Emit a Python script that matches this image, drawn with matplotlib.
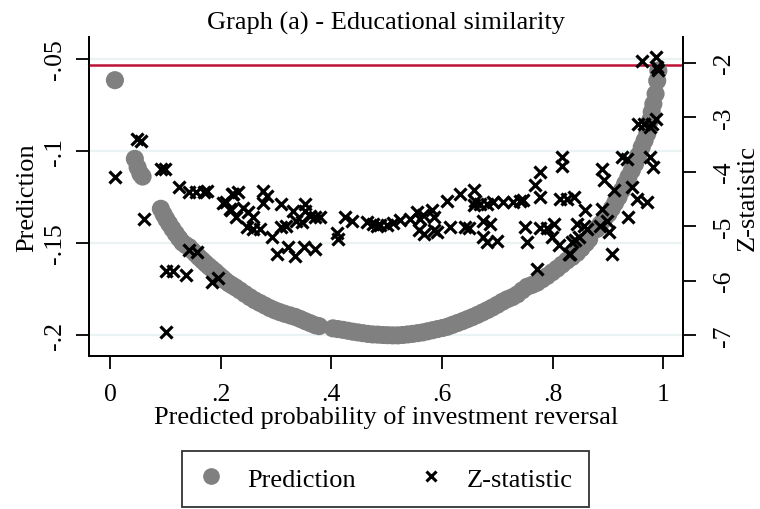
import matplotlib
matplotlib.use('Agg')
import matplotlib.pyplot as plt
from matplotlib.lines import Line2D

plt.rcParams['font.family'] = ['Liberation Serif', 'DejaVu Serif']

# Prediction (left axis)
pred_x = [0.009, 0.045, 0.050, 0.055, 0.059,
          0.092, 0.097, 0.102, 0.107, 0.113, 0.119, 0.125, 0.131, 0.137, 0.143,
          0.149, 0.155, 0.161, 0.167, 0.173, 0.179, 0.185, 0.191, 0.197, 0.203,
          0.209, 0.215, 0.221, 0.227, 0.235, 0.244, 0.253, 0.262, 0.271, 0.280,
          0.289, 0.298, 0.307, 0.316, 0.326, 0.335, 0.344, 0.353, 0.362, 0.371,
          0.378, 0.403, 0.412, 0.421, 0.430, 0.439, 0.448, 0.457, 0.466, 0.475,
          0.484, 0.493, 0.502, 0.511, 0.520, 0.529, 0.538, 0.547, 0.556, 0.565,
          0.574, 0.583, 0.592, 0.601, 0.610, 0.619, 0.628, 0.637, 0.646, 0.655,
          0.664, 0.673, 0.682, 0.691, 0.700, 0.709, 0.718, 0.727, 0.736, 0.745,
          0.754, 0.763, 0.772, 0.781, 0.790, 0.799, 0.808, 0.817, 0.826, 0.835,
          0.844, 0.852, 0.860, 0.866, 0.880, 0.886, 0.893, 0.901, 0.907, 0.913,
          0.919, 0.925, 0.931, 0.937, 0.943, 0.949, 0.955, 0.961, 0.966, 0.971,
          0.976, 0.979, 0.982, 0.986, 0.989, 0.991]
pred_y = [-0.0617, -0.1044, -0.1090, -0.1125, -0.1140,
          -0.1315, -0.1345, -0.1372, -0.1396, -0.1424, -0.1450, -0.1475, -0.1498, -0.1512, -0.1523,
          -0.1542, -0.1560, -0.1578, -0.1595, -0.1612, -0.1628, -0.1643, -0.1658, -0.1675, -0.1690,
          -0.1706, -0.1720, -0.1731, -0.1742, -0.1758, -0.1777, -0.1795, -0.1812, -0.1826, -0.1840,
          -0.1854, -0.1866, -0.1876, -0.1885, -0.1894, -0.1902, -0.1913, -0.1925, -0.1936, -0.1947,
          -0.1952, -0.1964, -0.1968, -0.1972, -0.1977, -0.1982, -0.1986, -0.1990, -0.1994, -0.1997,
          -0.1998, -0.2000, -0.2001, -0.2002, -0.2002, -0.2000, -0.1997, -0.1994, -0.1990, -0.1986,
          -0.1980, -0.1974, -0.1968, -0.1962, -0.1955, -0.1945, -0.1935, -0.1925, -0.1914, -0.1903,
          -0.1891, -0.1878, -0.1865, -0.1851, -0.1836, -0.1820, -0.1806, -0.1795, -0.1780, -0.1758,
          -0.1738, -0.1728, -0.1716, -0.1698, -0.1680, -0.1660, -0.1640, -0.1618, -0.1596, -0.1577,
          -0.1555, -0.1530, -0.1502, -0.1480, -0.1425, -0.1400, -0.1372, -0.1342, -0.1313, -0.1283,
          -0.1252, -0.1215, -0.1179, -0.1142, -0.1107, -0.1071, -0.1025, -0.0980, -0.0945, -0.0908,
          -0.0836, -0.0790, -0.0746, -0.0691, -0.0620, -0.0565]

# Z-statistic (right axis)
z_x = [0.010, 0.049, 0.056, 0.061, 0.093, 0.099, 0.102, 0.102, 0.114, 0.137,
       0.125, 0.143, 0.155, 0.170, 0.176, 0.143, 0.158, 0.184, 0.196, 0.209,
       0.221, 0.218, 0.227, 0.205, 0.217, 0.223, 0.232, 0.241, 0.250, 0.259,
       0.247, 0.259, 0.271, 0.277, 0.283, 0.277, 0.292, 0.301, 0.310, 0.310,
       0.319, 0.322, 0.331, 0.337, 0.335, 0.347, 0.353, 0.362, 0.371, 0.380,
       0.353, 0.350, 0.371, 0.410, 0.413, 0.425, 0.437, 0.464, 0.476, 0.482,
       0.488, 0.500, 0.512, 0.524, 0.542, 0.554, 0.560, 0.566, 0.558, 0.567,
       0.582, 0.585, 0.585, 0.591, 0.609, 0.615, 0.633, 0.642, 0.648, 0.657,
       0.660, 0.657, 0.669, 0.681, 0.693, 0.675, 0.687, 0.675, 0.681, 0.699,
       0.711, 0.729, 0.741, 0.747, 0.750, 0.753, 0.769, 0.778, 0.778, 0.772,
       0.778, 0.790, 0.802, 0.799, 0.811, 0.829, 0.817, 0.817, 0.814, 0.826,
       0.838, 0.835, 0.841, 0.847, 0.832, 0.844, 0.856, 0.862, 0.859, 0.889,
       0.892, 0.910, 0.889, 0.886, 0.898, 0.901, 0.907, 0.925, 0.934, 0.937,
       0.943, 0.952, 0.970, 0.955, 0.965, 0.976, 0.982, 0.979, 0.986, 0.976,
       0.961, 0.986, 0.988, 0.991]
z_y = [-4.09, -3.40, -3.44, -4.87, -3.95, -3.95, -6.94, -5.83, -5.83, -5.90,
       -4.28, -4.38, -4.38, -4.38, -4.35, -5.43, -5.48, -6.03, -5.95, -4.56,
       -4.41, -4.71, -4.83, -4.57, -4.69, -4.41, -4.38, -4.66, -4.75, -4.84,
       -5.02, -5.05, -5.05, -4.35, -4.44, -4.57, -5.20, -5.51, -4.60, -5.02,
       -4.99, -5.39, -4.72, -4.90, -5.55, -4.93, -4.72, -4.81, -4.84, -4.84,
       -4.60, -5.39, -5.42, -5.12, -5.24, -4.84, -4.90, -4.93, -4.96, -4.99,
       -4.98, -4.98, -4.95, -4.89, -4.87, -4.74, -4.87, -4.80, -5.08, -5.14,
       -4.71, -4.83, -5.08, -5.11, -4.53, -5.01, -4.41, -5.01, -5.03, -4.34,
       -4.53, -4.62, -4.59, -4.59, -4.56, -4.90, -4.96, -5.20, -5.29, -5.28,
       -4.56, -4.56, -4.53, -4.52, -5.02, -5.29, -4.25, -4.01, -4.47, -5.78,
       -5.03, -5.03, -4.96, -5.20, -5.35, -5.51, -3.73, -3.89, -4.50, -4.50,
       -4.46, -5.29, -5.26, -5.20, -5.51, -4.96, -4.99, -5.05, -4.70, -3.95,
       -4.16, -4.34, -4.68, -4.99, -4.90, -5.11, -5.51, -3.74, -3.76, -4.83,
       -4.28, -4.50, -4.56, -3.12, -3.13, -3.73, -3.92, -3.12, -3.03, -3.18,
       -1.97, -1.90, -2.08, -2.14]

ref_line = -0.0536

fig = plt.figure(figsize=(7.6, 5.1), dpi=100)
ax = fig.add_axes([0.117, 0.300, 0.782, 0.625])
ax2 = ax.twinx()

ax.set_xlim(-0.038, 1.036)
ax.set_ylim(-0.2114, -0.0384)
ax2.set_ylim(-7.385, -1.532)

ax.set_yticks([-0.05, -0.1, -0.15, -0.2])
ax.set_yticklabels(['-.05', '-.1', '-.15', '-.2'], rotation=90, va='center')
ax.set_xticks([0, 0.2, 0.4, 0.6, 0.8, 1])
ax.set_xticklabels(['0', '.2', '.4', '.6', '.8', '1'])
ax2.set_yticks([-2, -3, -4, -5, -6, -7])
ax2.set_yticklabels(['-2', '-3', '-4', '-5', '-6', '-7'], rotation=90, va='center')

for g in [-0.05, -0.1, -0.15, -0.2]:
    ax.axhline(g, color='#eaf2f3', lw=1.6, zorder=0)
ax.axhline(ref_line, color='#bd1238', lw=1.8, zorder=1)

ax.scatter(pred_x, pred_y, s=170, color='#808080', edgecolors='none', zorder=2)
ax2.scatter(z_x, z_y, s=75, marker='x', color='black', linewidths=2.3, zorder=3)

for a in (ax, ax2):
    a.spines['top'].set_visible(False)
    for s in ('left', 'right', 'bottom'):
        a.spines[s].set_linewidth(1.3)
    a.tick_params(direction='out', length=9.5, width=1.3, labelsize=18.5)
ax.tick_params(axis='y', pad=7)
ax.tick_params(axis='x', pad=10)
ax2.tick_params(axis='y', pad=12)

ax.set_xlabel('Predicted probability of investment reversal', fontsize=19, labelpad=0)
ax.set_ylabel('Prediction', fontsize=19, labelpad=4)
ax2.set_ylabel('Z-statistic', fontsize=19, rotation=90, labelpad=1)
ax.set_title('Graph (a) - Educational similarity', fontsize=19, pad=6)

handles = [Line2D([], [], marker='o', color='#808080', ls='none', markersize=11),
           Line2D([], [], marker='x', color='black', ls='none', markersize=7.5, markeredgewidth=2.2)]
leg = fig.legend(handles, ['Prediction', 'Z-statistic'], loc='center', bbox_to_anchor=(0.507, 0.059),
                 ncol=2, fontsize=19, frameon=True, fancybox=False, edgecolor='black',
                 handlelength=1.0, handletextpad=0.85, columnspacing=2.35, borderpad=0.62,
                 borderaxespad=0)
leg.get_frame().set_linewidth(1.3)

fig.savefig('out.png', dpi=100)
